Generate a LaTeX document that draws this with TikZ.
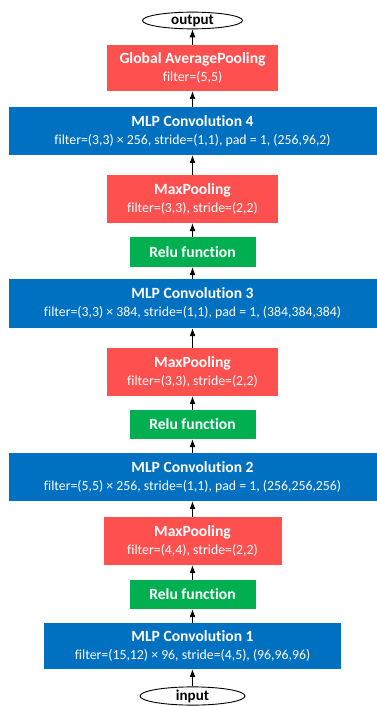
\documentclass[tikz,border=0pt]{standalone}
\usepackage{fontspec}
\setmainfont{Carlito}[Ligatures=NoCommon]
\usepackage{xcolor}
\usepackage{tikz}
\usetikzlibrary{arrows.meta,shapes.geometric}
\definecolor{convblue}{HTML}{0070C0}
\definecolor{poolred}{HTML}{FF5050}
\definecolor{relugreen}{HTML}{00B050}
\newcommand{\layername}[1]{{\fontsize{15.6}{18}\selectfont\bfseries #1}}

\begin{document}
\begin{tikzpicture}[
    x=1pt,y=-1pt,
    layer/.style={text=white,align=center,inner sep=2pt,
        font=\fontsize{13.8}{18}\selectfont},
    conv/.style={layer,fill=convblue,minimum width=368,minimum height=48},
    pool/.style={layer,fill=poolred,minimum width=171,minimum height=48},
    relu/.style={layer,fill=relugreen,minimum width=126,minimum height=29},
    io/.style={ellipse,draw,line width=0.9pt,fill=white,inner sep=0pt,
        minimum width=102,minimum height=17,font=\fontsize{15}{16}\selectfont\bfseries},
    flow/.style={line width=0.9pt,-{Latex[length=8pt,width=6pt]}}
]
\useasboundingbox (0,0) rectangle (377,706);

% layers, bottom to top
\node[io,minimum width=105,minimum height=18] (input) at (192.5,696) {input};
\node[conv,minimum width=297,minimum height=46] (conv1) at (192.5,646)
    {\layername{MLP Convolution 1}\\filter=(15,12) × 96, stride=(4,5), (96,96,96)};
\node[relu] (relu1) at (192.5,594.5) {\layername{Relu function}};
\node[pool,minimum width=178] (pool1) at (192.5,541)
    {\layername{MaxPooling}\\filter=(4,4), stride=(2,2)};
\node[conv] (conv2) at (192.5,477)
    {\layername{MLP Convolution 2}\\filter=(5,5) × 256, stride=(1,1), pad = 1, (256,256,256)};
\node[relu] (relu2) at (192.5,424.5) {\layername{Relu function}};
\node[pool] (pool2) at (192.5,372)
    {\layername{MaxPooling}\\filter=(3,3), stride=(2,2)};
\node[conv,minimum height=49] (conv3) at (192.5,303.5)
    {\layername{MLP Convolution 3}\\filter=(3,3) × 384, stride=(1,1), pad = 1, (384,384,384)};
\node[relu,minimum height=30] (relu3) at (192.5,252) {\layername{Relu function}};
\node[pool] (pool3) at (192.5,199)
    {\layername{MaxPooling}\\filter=(3,3), stride=(2,2)};
\node[conv] (conv4) at (192.5,131)
    {\layername{MLP Convolution 4}\\filter=(3,3) × 256, stride=(1,1), pad = 1, (256,96,2)};
\node[pool,minimum height=46] (gap) at (192.5,68)
    {\layername{Global AveragePooling}\\filter=(5,5)};
\node[io,minimum width=100,minimum height=16] (output) at (192.5,20.5) {output};

% data flow
\foreach \a/\b in {input/conv1,conv1/relu1,relu1/pool1,pool1/conv2,conv2/relu2,
    relu2/pool2,pool2/conv3,conv3/relu3,relu3/pool3,pool3/conv4,conv4/gap,gap/output}
    \draw[flow] (\a.north) -- (\b.south);

\end{tikzpicture}
\end{document}
